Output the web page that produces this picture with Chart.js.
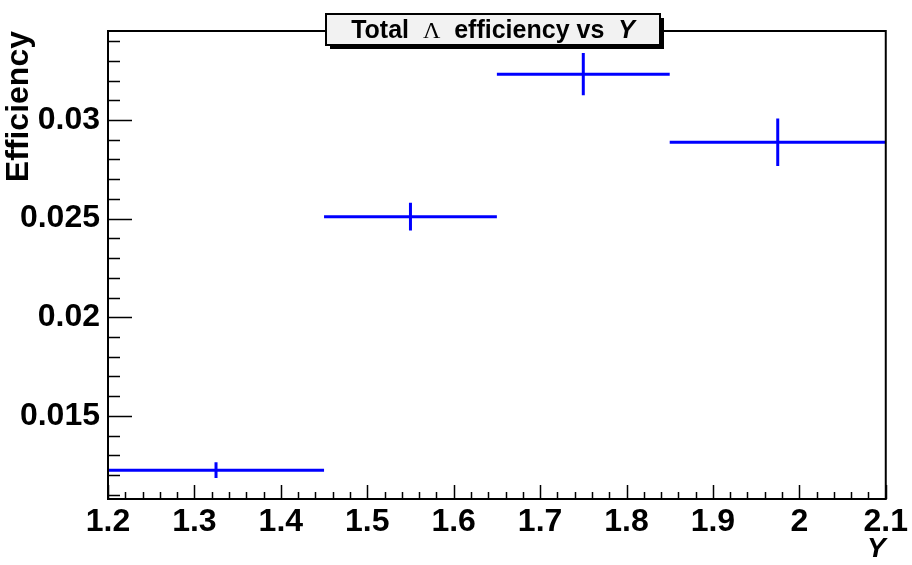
<!DOCTYPE html>
<html>
<head>
<meta charset="utf-8">
<script src="https://cdn.jsdelivr.net/npm/chart.js@4.4.1/dist/chart.umd.min.js"></script>
<style>
  html, body { margin: 0; padding: 0; background: #fff; }
  #wrap { width: 912px; height: 565px; }
</style>
</head>
<body>
<div id="wrap"><canvas id="effChart" width="912" height="565"></canvas></div>
<script>
// Lambda efficiency in bins of Y
var binLow = [1.2, 1.45, 1.65, 1.85];
var binHigh = [1.45, 1.65, 1.85, 2.1];
var binCenter = [1.325, 1.55, 1.75, 1.975];
var effValues = [0.01225, 0.0251, 0.03232, 0.02887];
var effErrors = [0.0004, 0.0007, 0.00107, 0.0012];

var xTicks = [1.2, 1.3, 1.4, 1.5, 1.6, 1.7, 1.8, 1.9, 2.0, 2.1];
var yTicks = [0.015, 0.02, 0.025, 0.03];

var FONT = "'Liberation Sans', Arial, sans-serif";
var BLUE = "#0000ff";

// one horizontal segment (bin width) and one vertical segment (error) per bin
var datasets = [];
for (var i = 0; i < effValues.length; i++) {
    datasets.push({
        data: [{ x: binLow[i], y: effValues[i] }, { x: binHigh[i], y: effValues[i] }],
        showLine: true, borderColor: BLUE, borderWidth: 3, pointRadius: 0
    });
    datasets.push({
        data: [{ x: binCenter[i], y: effValues[i] - effErrors[i] }, { x: binCenter[i], y: effValues[i] + effErrors[i] }],
        showLine: true, borderColor: BLUE, borderWidth: 3, pointRadius: 0
    });
}

// frame, inner ticks and the title box, ROOT style
var rootFrame = {
    id: "rootFrame",
    beforeDraw: function (chart) {
        var ctx = chart.ctx;
        ctx.save();
        ctx.fillStyle = "#fff";
        ctx.fillRect(0, 0, chart.width, chart.height);
        ctx.restore();
    },
    afterDraw: function (chart) {
        var ctx = chart.ctx, a = chart.chartArea;
        var x = chart.scales.x, y = chart.scales.y;
        ctx.save();
        ctx.strokeStyle = "#000";
        ctx.lineWidth = 2;
        ctx.strokeRect(a.left, a.top, a.right - a.left, a.bottom - a.top);

        ctx.lineWidth = 1.5;
        ctx.beginPath();
        // x ticks: major 0.1, minor 0.02
        for (var k = 0; ; k++) {
            var v = x.min + k * 0.02;
            if (v > x.max + 1e-9) break;
            var px = Math.round(x.getPixelForValue(v)) + 0.5;
            var major = Math.abs(v * 10 - Math.round(v * 10)) < 1e-6;
            ctx.moveTo(px, a.bottom);
            ctx.lineTo(px, a.bottom - (major ? 14 : 7));
        }
        // y ticks: major 0.005, minor 0.001
        var start = Math.ceil(y.min / 0.001 - 1e-9);
        for (var m = start; m * 0.001 <= y.max + 1e-12; m++) {
            var py = Math.round(y.getPixelForValue(m * 0.001)) + 0.5;
            var isMajor = m % 5 === 0;
            ctx.moveTo(a.left, py);
            ctx.lineTo(a.left + (isMajor ? 24 : 12), py);
        }
        ctx.stroke();

        // title box
        var bx = 326, by = 14, bw = 334, bh = 31;
        ctx.fillStyle = "#000";
        ctx.fillRect(bx + 4, by + 4, bw, bh);
        ctx.fillStyle = "#f2f2f2";
        ctx.fillRect(bx, by, bw, bh);
        ctx.lineWidth = 2;
        ctx.strokeRect(bx, by, bw, bh);

        var parts = [
            { t: "Total  ", f: "bold 25px " + FONT },
            { t: "\u039B", f: "24px 'Liberation Serif', serif" },
            { t: "  efficiency vs  ", f: "bold 25px " + FONT },
            { t: "Y", f: "italic bold 25px " + FONT }
        ];
        var total = 0;
        parts.forEach(function (p) { ctx.font = p.f; p.w = ctx.measureText(p.t).width; total += p.w; });
        var tx = bx + bw / 2 - total / 2;
        ctx.fillStyle = "#000";
        ctx.textBaseline = "alphabetic";
        parts.forEach(function (p) { ctx.font = p.f; ctx.fillText(p.t, tx, by + 24); tx += p.w; });
        ctx.restore();
    }
};

new Chart("effChart", {
    type: "scatter",
    data: { datasets: datasets },
    options: {
        responsive: false,
        animation: false,
        devicePixelRatio: 1,
        layout: { padding: { top: 31, right: 24, left: 0, bottom: 0 } },
        plugins: {
            legend: { display: false },
            tooltip: { enabled: false },
            title: { display: false }
        },
        scales: {
            x: {
                type: "linear",
                min: 1.2,
                max: 2.1,
                afterBuildTicks: function (s) { s.ticks = xTicks.map(function (v) { return { value: v }; }); },
                afterFit: function (s) { s.height = 66; },
                grid: { display: false, drawTicks: false },
                border: { display: false },
                ticks: {
                    color: "#000",
                    font: { family: FONT, size: 32, weight: "bold" },
                    padding: 4,
                    maxRotation: 0,
                    autoSkip: false,
                    callback: function (v) { return String(+v.toFixed(3)); }
                },
                title: {
                    display: true,
                    text: "Y",
                    align: "end",
                    color: "#000",
                    padding: 0,
                    font: { family: FONT, size: 28, style: "italic", weight: "bold", lineHeight: 1.1 }
                }
            },
            y: {
                type: "linear",
                min: 0.01079,
                max: 0.03451,
                afterBuildTicks: function (s) { s.ticks = yTicks.map(function (v) { return { value: v }; }); },
                afterFit: function (s) { s.width = 108; },
                grid: { display: false, drawTicks: false },
                border: { display: false },
                ticks: {
                    color: "#000",
                    font: { family: FONT, size: 32, weight: "bold" },
                    padding: 8,
                    autoSkip: false,
                    callback: function (v) { return String(+v.toFixed(4)); }
                },
                title: {
                    display: true,
                    text: "Efficiency",
                    align: "end",
                    color: "#000",
                    padding: 0,
                    font: { family: FONT, size: 32, weight: "bold", lineHeight: 1.2 }
                }
            }
        }
    },
    plugins: [rootFrame]
});
</script>
</body>
</html>
